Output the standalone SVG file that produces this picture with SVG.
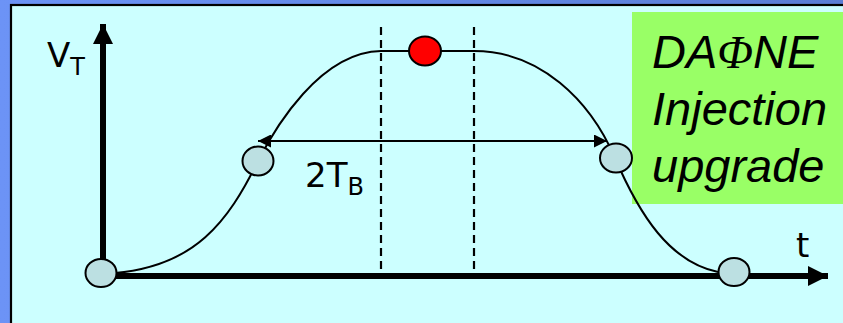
<svg xmlns="http://www.w3.org/2000/svg" width="843" height="323" viewBox="0 0 843 323">
  <defs>
    <linearGradient id="bg" x1="0" y1="0" x2="1" y2="0">
      <stop offset="0" stop-color="#6C93F6"/>
      <stop offset="1" stop-color="#5A7DD4"/>
    </linearGradient>
    <marker id="axisHead" viewBox="0 0 10 10" refX="10" refY="5" markerWidth="20" markerHeight="21" markerUnits="userSpaceOnUse" orient="auto">
      <path d="M0,0 L10,5 L0,10 z" fill="#000"/>
    </marker>
    <marker id="dimHead" viewBox="0 0 10 10" refX="10" refY="5" markerWidth="15" markerHeight="13" markerUnits="userSpaceOnUse" orient="auto-start-reverse">
      <path d="M0,0 L10,5 L0,10 z" fill="#000"/>
    </marker>
  </defs>
  <style>
    .lbl { font-family: "DejaVu Sans", Verdana, sans-serif; font-size: 34px; fill: #000; }
    .sub { font-size: 24px; }
    .title { font-family: "Liberation Sans", Arial, sans-serif; font-style: italic; font-size: 47px; fill: #000; }
    .phi { font-family: "Liberation Serif", "Times New Roman", serif; font-style: italic; }
    .pt { fill: #BCE0E2; stroke: #000; stroke-width: 2; }
    .curve { fill: none; stroke: #000; stroke-width: 2; }
    .dash { stroke: #000; stroke-width: 2.2; stroke-dasharray: 8 5; }
  </style>

  <rect x="0" y="0" width="843" height="323" fill="url(#bg)"/>
  <rect x="11" y="5" width="840" height="330" fill="#CCFFFF" stroke="#000" stroke-width="2.2"/>

  <g id="green-box">
    <rect x="632" y="12" width="211" height="192" fill="#99FF66"/>
    <text class="title" x="652" y="68">DA<tspan class="phi">Φ</tspan>NE</text>
    <text class="title" x="652" y="125">Injection</text>
    <text class="title" x="652" y="182">upgrade</text>
  </g>

  <g id="connectors">
    <line class="dash" x1="381" y1="27" x2="381" y2="276"/>
    <line class="dash" x1="474" y1="27" x2="474" y2="276"/>
    <path class="curve" d="M115,273 C195,266 228,222 258,161 C275,128 320,52 381,51 L474,51 C540,51 590,100 615,158 C640,216 670,262 718,272"/>
    <line x1="103" y1="276" x2="103" y2="24" stroke="#000" stroke-width="6" marker-end="url(#axisHead)"/>
    <line x1="100" y1="276" x2="828" y2="276" stroke="#000" stroke-width="6" marker-end="url(#axisHead)"/>
    <line x1="258" y1="141" x2="607" y2="141" stroke="#000" stroke-width="2" marker-start="url(#dimHead)" marker-end="url(#dimHead)"/>
  </g>

  <g id="label-vt"><text class="lbl" x="47" y="67">V<tspan class="sub" dy="8">T</tspan></text></g>
  <g id="label-2tb"><text class="lbl" x="305" y="187">2T<tspan class="sub" dy="8">B</tspan></text></g>
  <g id="label-t"><text class="lbl" x="796" y="257">t</text></g>

  <g id="point-origin"><ellipse class="pt" cx="101" cy="273" rx="15.5" ry="14"/></g>
  <g id="point-left"><ellipse class="pt" cx="258" cy="161" rx="15.5" ry="14.5"/></g>
  <g id="point-peak"><ellipse cx="425" cy="51" rx="16" ry="14.5" fill="#FF0000" stroke="#000" stroke-width="2"/></g>
  <g id="point-right"><ellipse class="pt" cx="616" cy="158" rx="16" ry="14.5"/></g>
  <g id="point-end"><ellipse class="pt" cx="734" cy="272" rx="15.5" ry="14"/></g>
</svg>
